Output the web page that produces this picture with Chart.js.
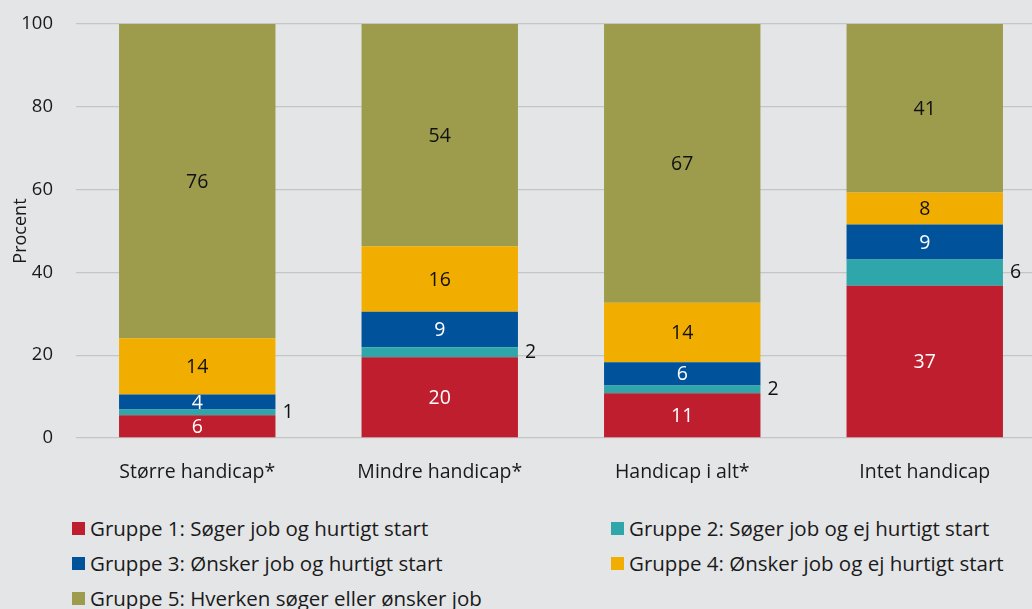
<!DOCTYPE html>
<html>
<head>
<meta charset="utf-8">
<script src="https://cdn.jsdelivr.net/npm/chart.js@4"></script>
<style>
    html, body { margin: 0; padding: 0; background: #e4e5e7; overflow: hidden; }
    body { width: 1032px; height: 609px; position: relative; font-family: "Open Sans", sans-serif; }
    #wrap { position: absolute; left: 0; top: -10px; width: 1046px; height: 506px; }
    #legend { position: absolute; left: 72px; top: 516px; width: 960px; display: grid; grid-template-columns: 539px 420px; row-gap: 11px; }
    .item { display: flex; align-items: center; font-size: 20.5px; color: #1a1a1a; height: 24px; white-space: nowrap; }
    .box { width: 13px; height: 13px; margin-right: 5px; flex: none; }
</style>
</head>
<body>
<div id="wrap"><canvas id="chart"></canvas></div>
<div id="legend"></div>
<script>
// data
const categories = ['Større handicap*', 'Mindre handicap*', 'Handicap i alt*', 'Intet handicap'];
const seriesNames = [
    'Gruppe 1: Søger job og hurtigt start',
    'Gruppe 2: Søger job og ej hurtigt start',
    'Gruppe 3: Ønsker job og hurtigt start',
    'Gruppe 4: Ønsker job og ej hurtigt start',
    'Gruppe 5: Hverken søger eller ønsker job'
];
const gruppe1 = [5.5, 19.5, 10.8, 36.8];
const gruppe2 = [1.4, 2.4, 1.9, 6.3];
const gruppe3 = [3.6, 8.6, 5.6, 8.5];
const gruppe4 = [13.6, 15.8, 14.4, 7.7];
const gruppe5 = [75.9, 53.7, 67.3, 40.7];
const yTicks = [0, 20, 40, 60, 80, 100];

const colors = ['#be1e2d', '#2fa6aa', '#00529b', '#f2ae00', '#9c9c4c'];
const labelColors = ['#ffffff', '#111111', '#ffffff', '#111111', '#111111'];
const FONT = '"Open Sans", sans-serif';

const allSeries = [gruppe1, gruppe2, gruppe3, gruppe4, gruppe5];

// værdier i søjlerne
const valueLabels = {
    id: 'valueLabels',
    afterDatasetsDraw(chart) {
        const ctx = chart.ctx;
        ctx.save();
        ctx.font = '19.5px ' + FONT;
        ctx.textBaseline = 'middle';
        chart.data.datasets.forEach((ds, i) => {
            const meta = chart.getDatasetMeta(i);
            meta.data.forEach((bar, j) => {
                const txt = String(Math.round(ds.data[j]));
                const cy = (bar.y + bar.base) / 2;
                ctx.fillStyle = labelColors[i];
                if (i === 1) {
                    ctx.textAlign = 'left';
                    ctx.fillText(txt, bar.x + bar.width / 2 + 7, cy);
                } else {
                    ctx.textAlign = 'center';
                    ctx.fillText(txt, bar.x, cy + 1);
                }
            });
        });
        ctx.restore();
    }
};

const chart = new Chart(document.getElementById('chart'), {
    type: 'bar',
    data: {
        labels: categories,
        datasets: allSeries.map((d, i) => ({
            label: seriesNames[i],
            data: d,
            backgroundColor: colors[i],
            borderWidth: 0,
            categoryPercentage: 0.645,
            barPercentage: 1
        }))
    },
    options: {
        responsive: true,
        maintainAspectRatio: false,
        animation: false,
        layout: { padding: { top: 4, right: 0, left: 0, bottom: 0 } },
        plugins: { legend: { display: false }, tooltip: { enabled: false } },
        scales: {
            x: {
                stacked: true,
                grid: { display: false, drawTicks: false },
                border: { display: false },
                ticks: { color: '#1a1a1a', font: { family: FONT, size: 19.5 }, padding: 23, maxRotation: 0 },
                afterFit(scale) { scale.height = 58; }
            },
            y: {
                stacked: true,
                min: 0,
                max: 100,
                afterBuildTicks(scale) { scale.ticks = yTicks.map(v => ({ value: v })); },
                grid: { color: '#c4c5c7', lineWidth: 1.3, drawTicks: false },
                border: { display: false },
                ticks: { color: '#1a1a1a', font: { family: FONT, size: 18.5 }, padding: 23 },
                title: { display: true, text: 'Procent', color: '#1a1a1a', font: { family: FONT, size: 18 }, padding: { top: 10, bottom: 0 } },
                afterFit(scale) { scale.width = 76; }
            }
        }
    },
    plugins: [valueLabels]
});

// legende i to kolonner
const legendEl = document.getElementById('legend');
legendEl.innerHTML = chart.data.datasets.map(ds =>
    `<div class="item"><span class="box" style="background:${ds.backgroundColor}"></span><span>${ds.label}</span></div>`
).join('');
</script>
</body>
</html>
